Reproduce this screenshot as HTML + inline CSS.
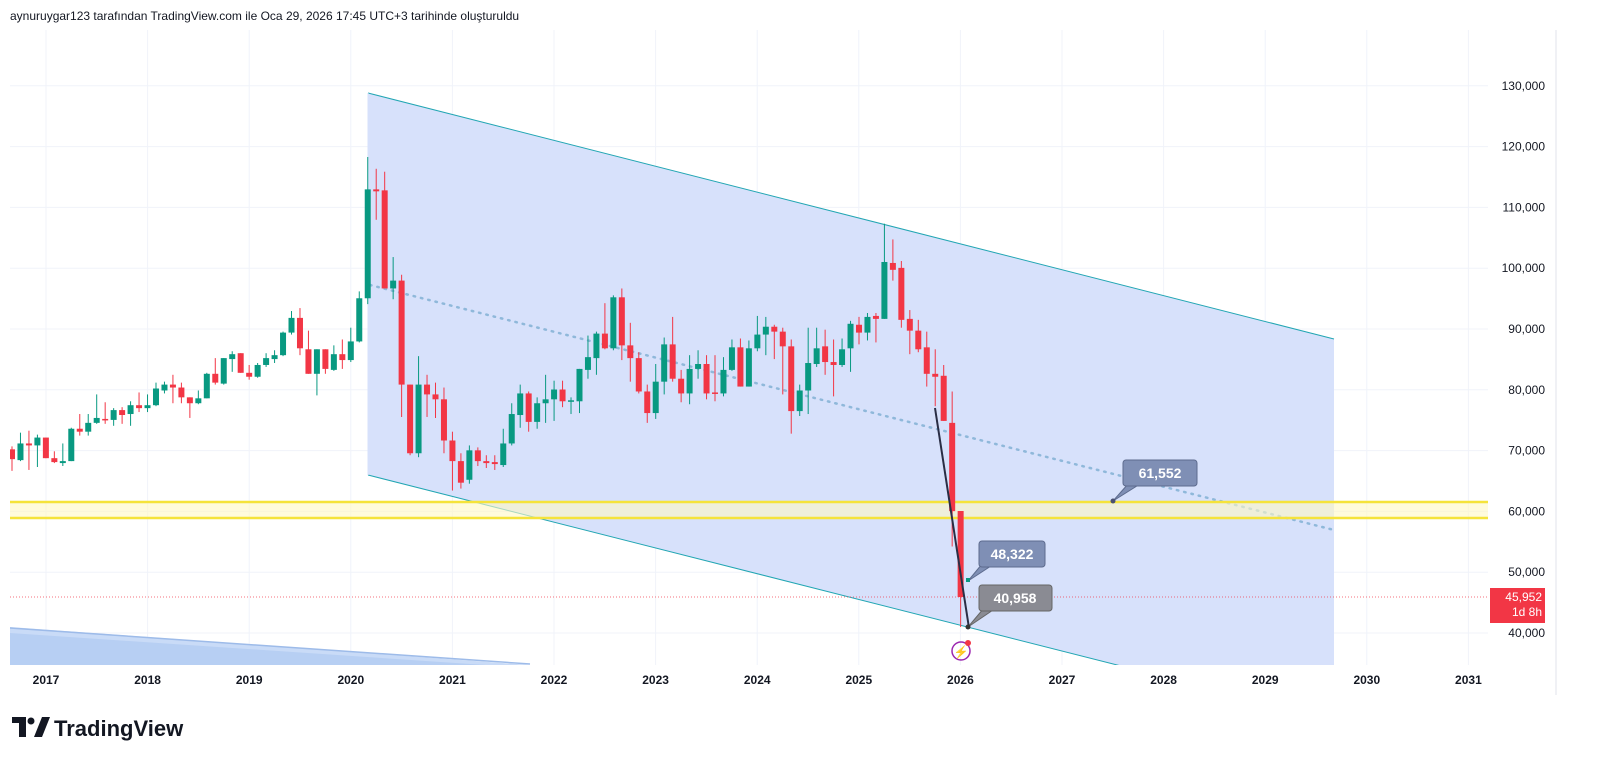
<!DOCTYPE html>
<html><head><meta charset="utf-8"><style>
body{margin:0;background:#fff;width:1600px;height:776px;overflow:hidden;font-family:"Liberation Sans",sans-serif;}
svg{position:absolute;left:0;top:0}
</style></head><body>
<svg id="s" width="1600" height="776" xmlns="http://www.w3.org/2000/svg" font-family="Liberation Sans, sans-serif">
<rect x="0" y="0" width="1600" height="776" fill="#fff"/>
<text x="10" y="20" font-size="12" fill="#131722">aynuruygar123 tarafından TradingView.com ile Oca 29, 2026 17:45 UTC+3 tarihinde oluşturuldu</text>
<line x1="1556" y1="30" x2="1556" y2="695" stroke="#e0e3eb"/>
<g id="grid" stroke="#f0f3fa" stroke-width="1"></g>
<clipPath id="cp"><rect x="10" y="30" width="1478" height="635"/></clipPath>
<g clip-path="url(#cp)">
<polygon points="10,627 530,665 10,665" fill="#c9dbf7"/>
<polygon points="10,633 530,668 10,668" fill="#b7cff3"/>
<line x1="10" y1="628" x2="530" y2="664" stroke="#9dbbe9" stroke-width="1.5"/>
<polygon points="368,93 1334,339 1334,720 368,475" fill="#d7e1fb"/>
<line x1="368" y1="93" x2="1334" y2="339" stroke="#22a6b3" stroke-width="1"/>
<line x1="368" y1="475" x2="1334" y2="720" stroke="#22a6b3" stroke-width="1"/>
<line x1="368" y1="93" x2="368" y2="475" stroke="#d7e1fb"/>
<line x1="370" y1="285" x2="1334" y2="530" stroke="#8fb8da" stroke-width="2.5" stroke-dasharray="1.5 6" stroke-linecap="round"/>
<rect x="10" y="502" width="1478" height="16" fill="#fff8c4" fill-opacity="0.6"/>
<line x1="10" y1="502" x2="1488" y2="502" stroke="#f5e33a" stroke-width="2.5"/>
<line x1="10" y1="518" x2="1488" y2="518" stroke="#f5e33a" stroke-width="2.5"/>
<line x1="10" y1="597" x2="1488" y2="597" stroke="#f23645" stroke-width="1" stroke-dasharray="1 2" opacity="0.7"/>
<g id="candles"></g>
<line x1="935" y1="408" x2="969" y2="628" stroke="#2a2e45" stroke-width="2"/>
</g>
<!-- annotations -->
<polygon points="1113,501 1128,484 1140,484" fill="#7f8fb5" stroke="#5d6b8e"/>
<rect x="1123" y="460" width="74" height="26" rx="3" fill="#7f8fb5" stroke="#5d6b8e"/>
<circle cx="1113" cy="501" r="2.5" fill="#4a5170"/>
<text x="1160" y="478" font-size="14" font-weight="bold" fill="#fff" text-anchor="middle">61,552</text>
<polygon points="968,581 982,564 994,564" fill="#7f8fb5" stroke="#5d6b8e"/>
<rect x="979" y="541" width="66" height="26" rx="3" fill="#7f8fb5" stroke="#5d6b8e"/>
<rect x="966" y="578" width="4" height="4" fill="#089981"/>
<text x="1012" y="559" font-size="14" font-weight="bold" fill="#fff" text-anchor="middle">48,322</text>
<polygon points="968,627 984,608 996,608" fill="#8a8b93" stroke="#666"/>
<rect x="979" y="585" width="73" height="26" rx="3" fill="#8a8b93" stroke="#666"/>
<circle cx="968" cy="627" r="2.5" fill="#333"/>
<text x="1015" y="603" font-size="14" font-weight="bold" fill="#fff" text-anchor="middle">40,958</text>
<circle cx="961" cy="651" r="9" fill="none" stroke="#9c27b0" stroke-width="1.5"/>
<text x="961" y="656" font-size="12" fill="#9c27b0" text-anchor="middle">⚡</text>
<circle cx="968" cy="643" r="3" fill="#f23645"/>
<g id="ylab" font-size="12" fill="#131722" text-anchor="end"></g>
<rect x="1490" y="588" width="55" height="35" fill="#f23645"/>
<text x="1542" y="601" font-size="12" fill="#fff" text-anchor="end">45,952</text>
<text x="1542" y="616" font-size="12" fill="#fff" text-anchor="end">1d 8h</text>
<g id="xlab" font-size="12" font-weight="bold" fill="#131722" text-anchor="middle"></g>
<g transform="translate(12,717)">
<path d="M0 0 H14 V20 H7 V6 H0 Z" fill="#131722"/>
<circle cx="19" cy="4" r="3.5" fill="#131722"/>
<path d="M22 20 L30 0 H38 L30 20 Z" fill="#131722"/>
</g>
<text x="54" y="736" font-size="22" font-weight="bold" fill="#131722">TradingView</text>
</svg>
<script>
var NS="http://www.w3.org/2000/svg";
function el(p,t,a,txt){var e=document.createElementNS(NS,t);for(var k in a)e.setAttribute(k,a[k]);if(txt)e.textContent=txt;document.getElementById(p).appendChild(e);return e;}
var yrs=[2017,2018,2019,2020,2021,2022,2023,2024,2025,2026,2027,2028,2029,2030,2031];
yrs.forEach(function(y,i){var x=46+i*101.6;el("grid","line",{x1:x,y1:30,x2:x,y2:665});el("xlab","text",{x:x,y:684},""+y);});
for(var p=40000;p<=130000;p+=10000){var y=633-(p-40000)*0.00608;el("grid","line",{x1:10,y1:y,x2:1488,y2:y});if(p!=40000||true)el("ylab","text",{x:1545,y:y+4},p.toLocaleString("en-US"));}
var A=[[458,468,455,480,0],[452,469,441,470,1],[452,454,439,479,0],[446,454,443,476,1],[446,467,446,467,0],[467,471,460,472,0],[470,472,452,475,1],[437,470,436,470,1],[437,440,422,444,0],[431,440,422,444,1],[426,431,402,432,1],[427,428,410,432,0],[418,428,416,434,1],[418,423,415,432,0],[413,422,409,434,1],[413,416,400,420,0],[413,416,402,420,1],[396,413,390,414,1],[392,398,389,401,1],[392,395,382,411,0],[395,405,390,411,0],[405,411,405,426,0],[406,411,398,412,1],[381,406,380,406,1],[381,390,365,392,0],[365,391,365,392,1],[361,366,358,379,1],[360,380,360,380,0],[380,384,372,387,0],[372,384,370,385,1],[365,372,360,374,1],[362,366,357,370,1],[339,362,338,363,1],[324,339,317,341,1],[324,355,314,362,0],[356,381,337,381,0],[356,381,356,403,1],[356,376,356,381,0],[361,377,352,378,1],[361,367,346,376,0],[348,367,334,369,1],[304,348,297,349,1],[193,304,160,310,1],[193,195,172,224,0],[194,294,175,294,0],[286,294,262,305,1],[286,392,280,425,0],[392,462,392,464,0],[392,462,363,466,1],[392,402,382,425,0],[402,407,390,426,0],[407,449,395,462,0],[449,470,440,500,0],[470,492,462,498,0]];
var B=[[460,490,455,494,1],[460,471,457,476,0],[471,473,465,478,0],[472,474,465,480,0],[453,475,438,477,1],[423,453,412,455,1],[402,424,393,437,1],[402,431,400,441,0],[412,431,406,438,1],[408,412,383,432,1],[398,408,389,430,1],[398,410,389,416,0],[409,410,406,423,1],[377,410,377,422,1],[365,378,343,387,1],[341,366,339,383,1],[341,356,310,357,0],[304,356,302,358,1],[304,353,295,368,0],[353,366,330,390,0],[366,400,360,402,0],[400,422,393,432,0],[390,422,372,428,1],[352,390,345,403,1],[352,387,324,390,0],[387,402,378,411,0],[377,402,363,413,1],[372,377,358,387,1],[372,402,363,408,0],[401,402,363,410,0],[378,402,365,405,1],[355,378,347,379,1],[355,395,346,395,0],[356,395,348,395,1],[342,356,323,359,1],[334,342,324,363,1],[334,339,332,367,0],[339,354,335,403,0],[354,420,347,443,0],[399,420,393,425,1],[371,399,335,423,1],[356,372,335,375,1],[354,370,337,383,0],[370,373,347,405,0],[357,373,346,375,1],[331,356,328,380,1],[332,340,324,352,0],[324,340,320,348,1],[323,326,320,350,0],[268,326,229,326,1],[269,276,245,287,0],[274,327,267,335,0],[326,338,317,362,0],[338,357,327,360,0],[355,382,339,395,0],[382,385,357,415,0],[384,430,373,430,0],[432,522,400,558,0]];
function ta(y){return 157+(y-160)*0.981;}
function tb(y){return 502+(3*y-1538)*0.327;}
var all=[];
A.forEach(function(c){all.push([ta(c[0]),ta(c[1]),ta(c[2]),ta(c[3]),c[4]]);});
B.forEach(function(c){all.push([tb(c[0]),tb(c[1]),tb(c[2]),tb(c[3]),c[4]]);});
all.push([511,597,511,627,0]);
all.forEach(function(c,i){var x=12+i*8.47;var col=c[4]?"#089981":"#f23645";
el("candles","line",{x1:x,y1:c[2],x2:x,y2:c[3],stroke:col,"stroke-width":1});
var h=Math.max(1.5,c[1]-c[0]);el("candles","rect",{x:x-3,y:c[0],width:6,height:h,fill:col});});
</script>
</body></html>
